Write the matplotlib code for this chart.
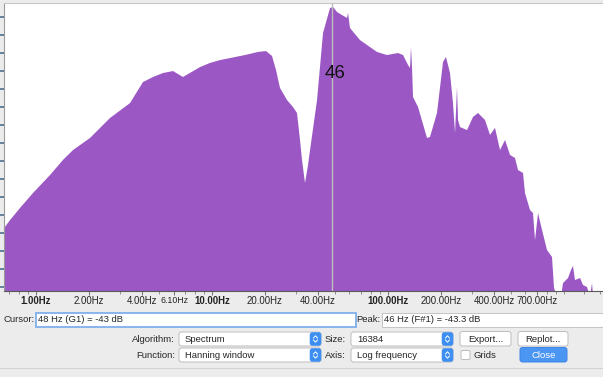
import numpy as np
import matplotlib
matplotlib.use("Agg")
import matplotlib.pyplot as plt
from matplotlib.patches import FancyBboxPatch, Rectangle

plt.rcParams['font.family'] = ['Liberation Sans', 'DejaVu Sans']

# spectrum (Hz, dB)
freq = [0.66, 0.712, 0.811, 0.961, 1.201, 1.423, 1.623, 2.027, 2.633, 3.421,
        4.055, 4.622, 5.268, 6.003, 6.842, 8.55, 9.74, 11.11, 12.66, 15.40,
        18.25, 20.27, 21.92, 23.10, 24.34, 26.68, 28.86, 30.41, 31.62, 32.46,
        33.76, 35.12, 36.06, 39.52, 42.73, 46.83, 48.70, 51.31, 54.78, 58.48,
        59.25, 60.83, 69.33, 86.6, 98.7, 114.0, 121.7, 129.9, 133.4, 135.1,
        136.9, 138.7, 148.1, 166.6, 173.2, 189.8, 205.4, 213.5, 225.0, 234.0,
        240.3, 243.4, 246.6, 249.9, 256.5, 281.1, 304.1, 324.7, 355.7, 379.7,
        405.5, 433.0, 462.2, 493.4, 526.7, 547.8, 584.8, 600.3, 641.0, 666.7,
        684.3, 711.8, 749.9, 800.5, 854.6, 877.3, 912.4, 961.6, 987.0, 1053.7,
        1095.9, 1124.8, 1154.6, 1233.0, 1282.3, 1351.1, 1405.1, 1442.4, 1461.4, 2100]
db = [-55.5, -55.06, -54.39, -53.56, -52.56, -51.72, -51.17, -50.5, -49.39, -48.56,
      -47.39, -47.11, -46.89, -46.78, -47.11, -46.56, -46.33, -46.17, -46.06, -45.89,
      -45.72, -45.67, -45.94, -46.72, -47.72, -48.39, -48.78, -49.11, -50.61, -51.72,
      -53.0, -52.0, -51.17, -48.39, -44.67, -43.28, -43.22, -43.5, -43.67, -43.83,
      -43.56, -44.39, -45.06, -45.72, -45.89, -45.78, -45.89, -46.44, -46.61, -45.44,
      -46.56, -48.22, -48.78, -50.5, -50.44, -49.11, -46.28, -46.0, -46.89, -48.56,
      -50.22, -49.0, -47.67, -49.5, -49.89, -50.06, -49.33, -49.11, -49.5, -50.33,
      -49.94, -51.17, -50.61, -51.44, -51.61, -52.28, -52.44, -53.56, -54.5, -54.67,
      -56.17, -54.67, -55.61, -56.72, -57.11, -58.83, -59.3, -59.3, -58.56, -58.28,
      -57.83, -57.61, -58.39, -58.28, -58.67, -58.78, -59.3, -58.56, -59.3, -59.3]

major_ticks = [1, 2, 4, 6.1, 10, 20, 40, 100, 200, 400, 700, 1900]
major_labels = ['1.00Hz', '2.00Hz', '4.00Hz', '6.10Hz', '10.00Hz', '20.00Hz', '40.00Hz',
                '100.00Hz', '200.00Hz', '400.00Hz', '700.00Hz', '']
minor_ticks = [0.7, 0.8, 0.9, 3, 5, 7, 8, 9, 30, 50, 60, 70, 80, 90,
               300, 500, 600, 800, 900, 1000, 1300, 1600]

cursor_hz = 48
peak_hz = 46
cursor_text = '48 Hz (G1) = -43 dB'
peak_text = '46 Hz (F#1) = -43.3 dB'

W, H = 603, 377
purple = '#9b58c4'
mac_blue = '#3d8ef2'

fig = plt.figure(figsize=(W / 100, H / 100), dpi=100, facecolor='#ececec')

# overlay in pixel units for the dialog widgets
ui = fig.add_axes([0, 0, 1, 1], zorder=0)
ui.set_xlim(0, W)
ui.set_ylim(H, 0)
ui.axis('off')

# spectrum plot
ax = fig.add_axes([4 / W, (H - 291) / H, (620 - 4) / W, (291 - 3) / H], zorder=1)
ax.set_facecolor('white')
ax.set_xscale('log')
ax.set_xlim(0.658, 2080)
ax.set_ylim(-59, -43)
ax.fill_between(freq, db, -60, color=purple, linewidth=0)
ax.axvline(cursor_hz, color='#bcbcbc', lw=1)
ax.text(50, -46.9, str(peak_hz), fontsize=13.5, ha='center', va='center', color='#111')

ax.set_xticks(major_ticks)
ax.set_xticklabels(major_labels)
ax.set_xticks(minor_ticks, minor=True)
ax.xaxis.set_minor_formatter(plt.NullFormatter())
for lab in ax.get_xticklabels():
    t = lab.get_text()
    if t in ('1.00Hz', '10.00Hz', '100.00Hz'):
        lab.set_fontweight('bold')
    if t == '6.10Hz':
        lab.set_fontsize(6.3)
    else:
        lab.set_fontsize(6.9)
    lab.set_color('#222222')
ax.tick_params(axis='x', which='major', direction='out', length=3, width=0.7,
               color='#707070', pad=0.5)
ax.tick_params(axis='x', which='minor', direction='out', length=2.5, width=0.6,
               color='#808080')

# the dB labels sit off-canvas in the screenshot; only their tick marks show
yt = np.arange(-43.78, -59, -1.0)
ax.set_yticks(yt)
ax.set_yticklabels([])
ax.tick_params(axis='y', direction='out', length=3.5, width=1.2, color='#4a6d90')

ax.spines['top'].set_color('#c8c8c8')
ax.spines['left'].set_color('#9a9a9a')
ax.spines['bottom'].set_color('#5a5a5a')
ax.spines['right'].set_visible(False)
for s in ax.spines.values():
    s.set_linewidth(0.8)


def rbox(x0, y0, x1, y1, fc='white', ec='#bdbdbd', lw=0.7, r=2.5):
    ui.add_patch(FancyBboxPatch((x0, y0), x1 - x0, y1 - y0,
                                boxstyle='round,pad=0,rounding_size=%s' % r,
                                fc=fc, ec=ec, lw=lw))


def label(x, y, s, ha='left', color='#262626', size=6.8, weight='normal'):
    ui.text(x, y, s, ha=ha, va='center', fontsize=size, color=color, fontweight=weight)


def combo(x0, y0, x1, y1, txt):
    rbox(x0, y0, x1, y1)
    rbox(x1 - 11, y0 + 0.5, x1, y1 - 0.5, fc=mac_blue, ec=mac_blue, lw=0.4)
    cx, cy = x1 - 5.5, (y0 + y1) / 2
    ui.plot([cx - 2, cx, cx + 2], [cy - 1, cy - 3.2, cy - 1], color='white', lw=0.7)
    ui.plot([cx - 2, cx, cx + 2], [cy + 1, cy + 3.2, cy + 1], color='white', lw=0.7)
    label(x0 + 6, cy, txt)


# cursor / peak row
label(34.5, 319.5, 'Cursor:', ha='right')
ui.add_patch(Rectangle((36, 312.5), 320, 14, fc='white', ec='#7fb0ea', lw=1.3))
label(37.5, 319.5, cursor_text)
label(380.5, 319.5, 'Peak:', ha='right')
ui.add_patch(Rectangle((381.5, 312.5), 240, 14, fc='white', ec='#c4c4c4', lw=0.7))
label(383.5, 319.5, peak_text)

# algorithm row
label(175, 339, 'Algorithm:', ha='right')
combo(179, 332, 321, 346, 'Spectrum')
label(346, 339, 'Size:', ha='right')
combo(351, 332, 453, 346, '16384')
rbox(460, 331.5, 511, 346)
label(485.5, 339, 'Export...', ha='center')
rbox(518, 331.5, 568, 346)
label(543, 339, 'Replot...', ha='center')

# function row
label(175, 355, 'Function:', ha='right')
combo(179, 348, 321, 362, 'Hanning window')
label(346, 355, 'Axis:', ha='right')
combo(351, 348, 453, 362, 'Log frequency')
rbox(461, 350.5, 470, 359.5, r=1.5)
label(474, 355, 'Grids')
rbox(520, 347.5, 567, 362, fc='#4b95f3', ec='#3a84e6')
label(543.5, 355, 'Close', ha='center', color='white')

ui.plot([0, W], [367.5, 367.5], color='#d2d2d2', lw=0.8)

fig.savefig('out.png', dpi=100, facecolor=fig.get_facecolor())
